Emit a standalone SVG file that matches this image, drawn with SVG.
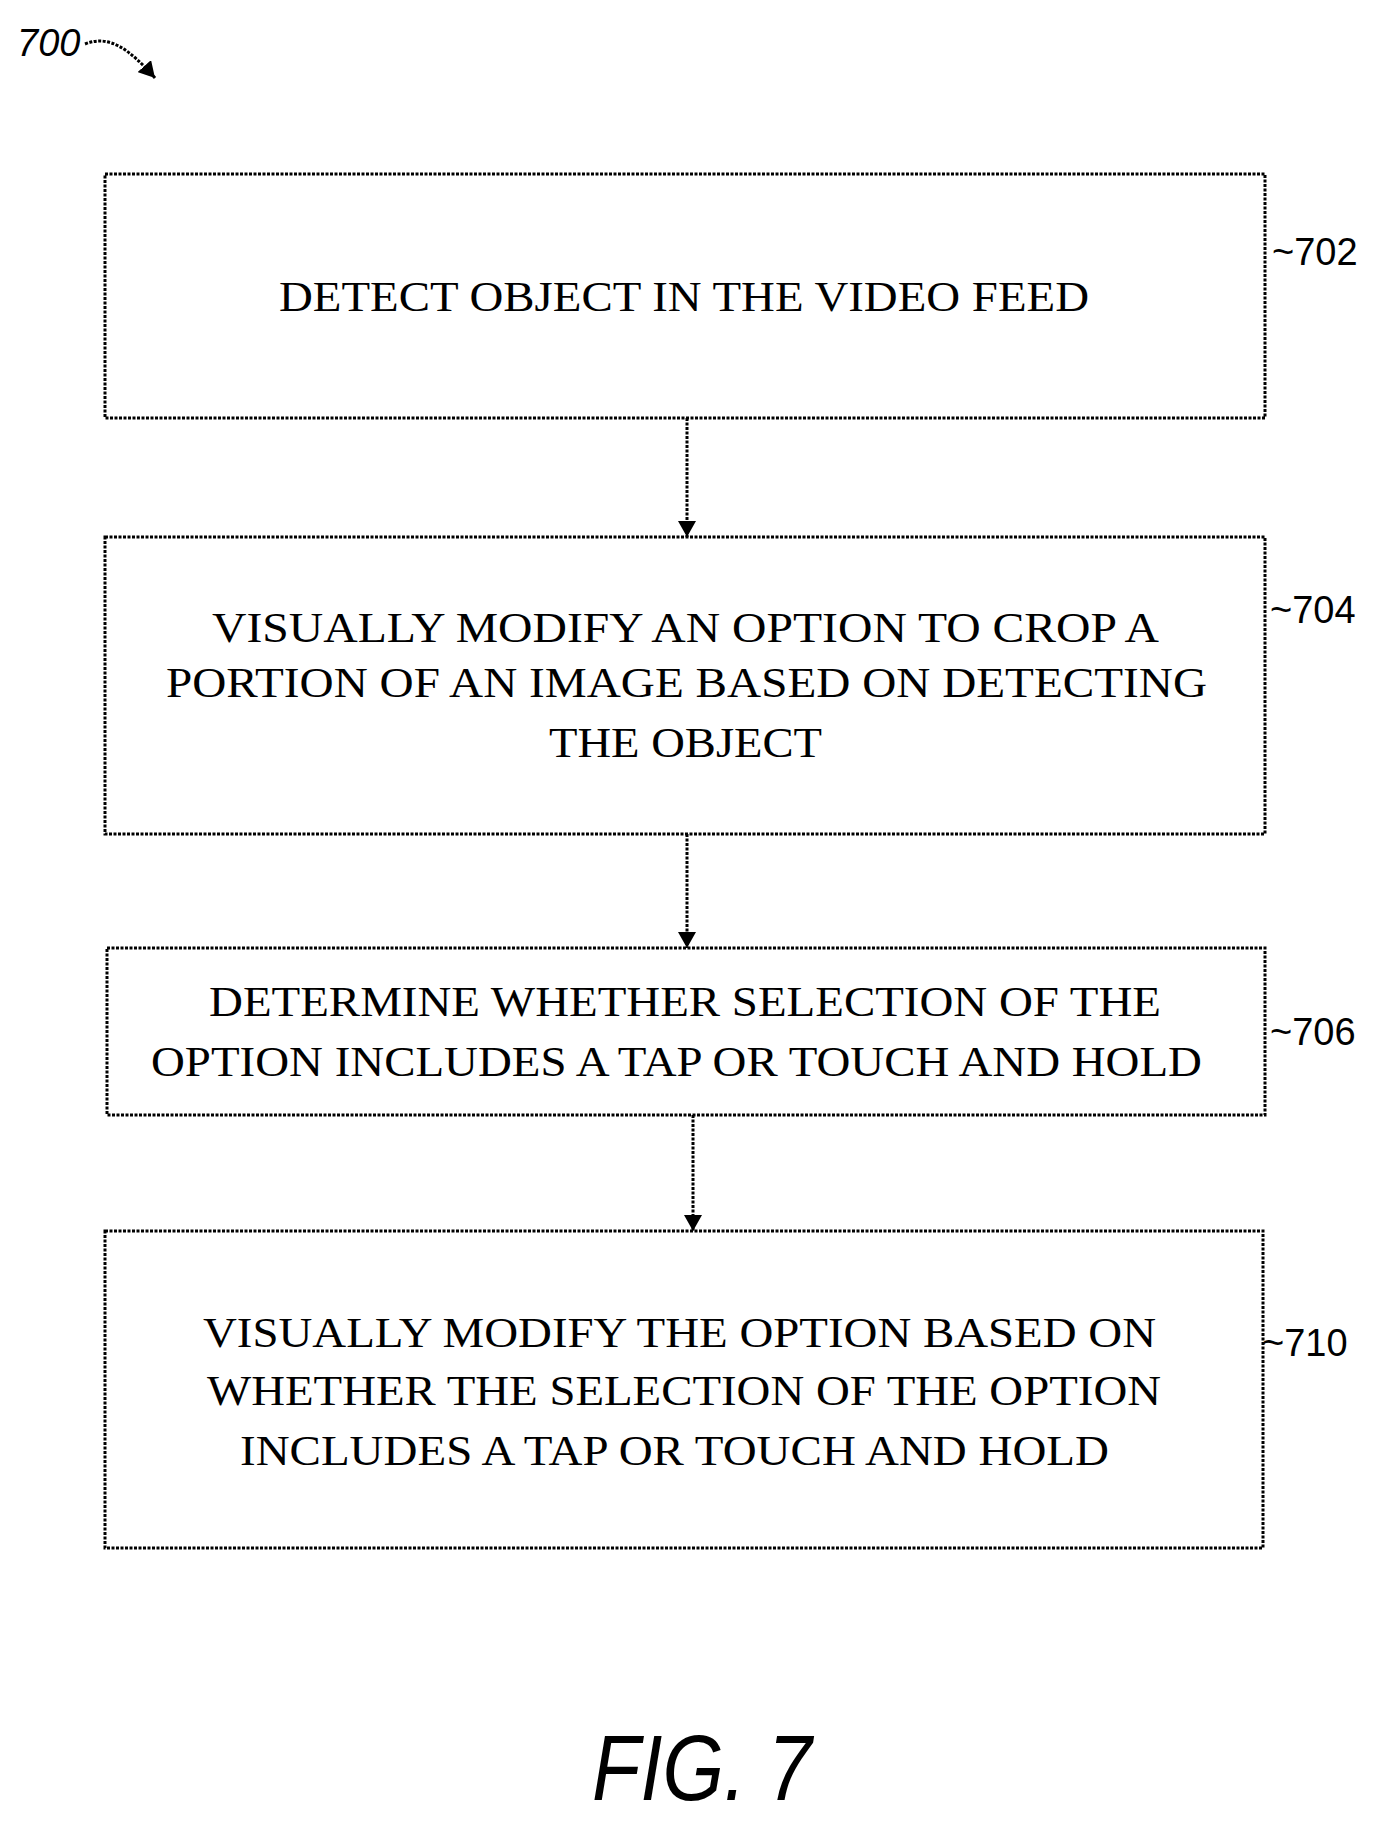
<svg xmlns="http://www.w3.org/2000/svg" width="1393" height="1822" viewBox="0 0 1393 1822">
<style>
.box{fill:none;stroke:#000;stroke-width:3;stroke-dasharray:3 1.5}
.t{font-family:"Liberation Serif",serif;font-size:42px;fill:#000}
.l{font-family:"Liberation Sans",sans-serif;font-size:38px;fill:#000}
.c{stroke:#000;stroke-width:3;fill:none;stroke-dasharray:3 1.5}
</style>
<defs><marker id="ah" markerWidth="16" markerHeight="18" refX="16" refY="9" orient="auto" markerUnits="userSpaceOnUse"><path d="M0,0 L16,9 L0,18 Z" fill="#000"/></marker></defs>
<text x="17" y="56" class="l" font-style="italic">700</text>
<path d="M85,44 C110,34 130,50 155,78" class="c" marker-end="url(#ah)"/>
<g id="n702"><rect x="105" y="174" width="1160" height="244" class="box"/>
<text x="279" y="311" class="t" textLength="810" lengthAdjust="spacingAndGlyphs">DETECT OBJECT IN THE VIDEO FEED</text>
<text x="1272" y="265" class="l">~702</text></g>
<g id="n704"><rect x="105" y="537" width="1160" height="297" class="box"/>
<text x="212" y="642" class="t" textLength="947" lengthAdjust="spacingAndGlyphs">VISUALLY MODIFY AN  OPTION TO CROP A</text>
<text x="166" y="697" class="t" textLength="1041" lengthAdjust="spacingAndGlyphs">PORTION OF AN IMAGE BASED ON DETECTING</text>
<text x="549" y="757" class="t" textLength="273" lengthAdjust="spacingAndGlyphs">THE OBJECT</text>
<text x="1270" y="623" class="l">~704</text></g>
<g id="n706"><rect x="107" y="948" width="1158" height="167" class="box"/>
<text x="209" y="1016" class="t" textLength="952" lengthAdjust="spacingAndGlyphs">DETERMINE WHETHER SELECTION OF THE</text>
<text x="151" y="1076" class="t" textLength="1051" lengthAdjust="spacingAndGlyphs">OPTION INCLUDES A TAP OR TOUCH AND HOLD</text>
<text x="1270" y="1045" class="l">~706</text></g>
<g id="n710"><rect x="105" y="1231" width="1158" height="317" class="box"/>
<text x="203" y="1347" class="t" textLength="953" lengthAdjust="spacingAndGlyphs">VISUALLY MODIFY THE OPTION BASED ON</text>
<text x="207" y="1405" class="t" textLength="954" lengthAdjust="spacingAndGlyphs">WHETHER THE SELECTION OF THE OPTION</text>
<text x="240" y="1465" class="t" textLength="869" lengthAdjust="spacingAndGlyphs">INCLUDES A TAP OR TOUCH AND HOLD</text>
<text x="1262" y="1356" class="l">~710</text></g>
<g id="connectors">
<line x1="687" y1="418" x2="687" y2="537" class="c" marker-end="url(#ah)"/>
<line x1="687" y1="834" x2="687" y2="948" class="c" marker-end="url(#ah)"/>
<line x1="693" y1="1115" x2="693" y2="1231" class="c" marker-end="url(#ah)"/>
</g>
<text x="702" y="1800" text-anchor="middle" font-family="Liberation Sans,sans-serif" font-style="italic" font-size="92" textLength="293" lengthAdjust="spacingAndGlyphs" transform="translate(702 0) scale(0.75 1) translate(-702 0)">FIG. 7</text>
</svg>
